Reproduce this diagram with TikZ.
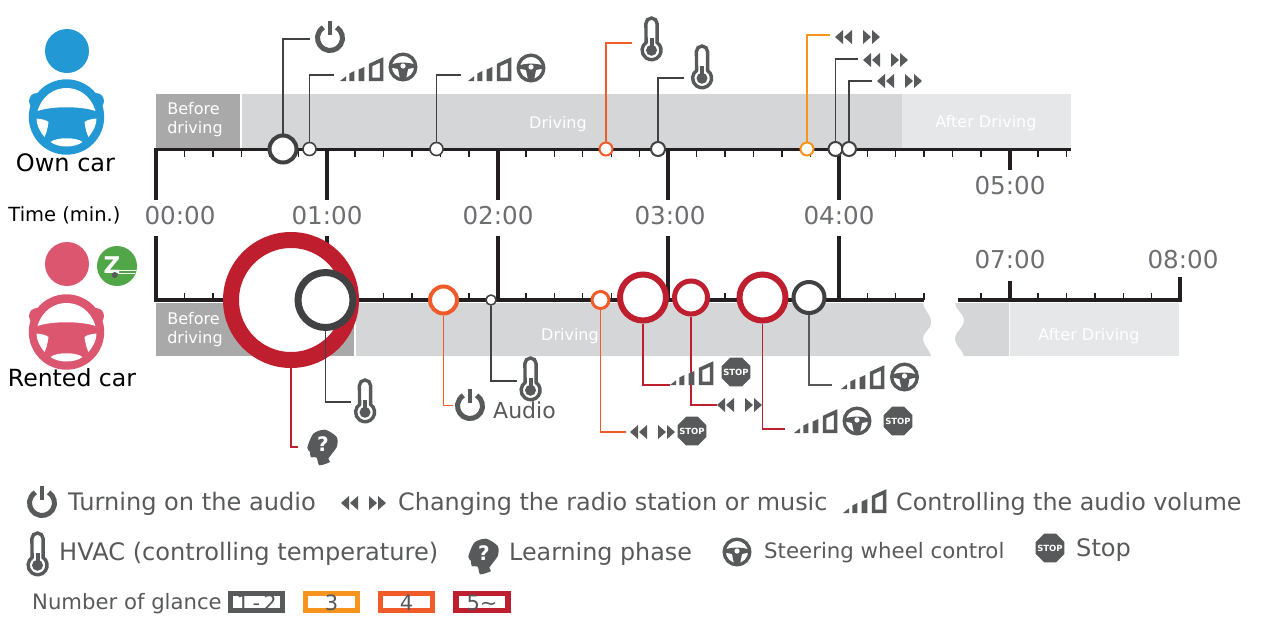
\documentclass[tikz,border=0pt]{standalone}
\usepackage{fontspec}
\setmainfont{DejaVu Sans}
\definecolor{icongray}{HTML}{58595B}
\definecolor{timegray}{HTML}{6D6E71}
\definecolor{axisblack}{HTML}{231F20}
\definecolor{marksdark}{HTML}{414042}
\definecolor{glanceorange}{HTML}{F7941D}
\definecolor{glancetomato}{HTML}{F15A29}
\definecolor{glancered}{HTML}{BE1E2D}
\definecolor{ownblue}{HTML}{2298D5}
\definecolor{rentpink}{HTML}{DC566F}
\definecolor{zipgreen}{HTML}{51A747}
\definecolor{bandbefore}{HTML}{A9A9A9}
\definecolor{banddriving}{HTML}{D5D6D8}
\definecolor{bandafter}{HTML}{E6E7E8}
\newcommand{\fsize}[1]{\fontsize{#1}{#1}\selectfont}
\tikzset{
  axisline/.style={axisblack,line width=3.5pt},
  majortick/.style={axisblack,line width=4pt},
  minortick/.style={axisblack,line width=1.4pt},
  timelabel/.style={text=timegray,inner sep=0pt,font=\fsize{24.6}},
  bandlabel/.style={text=white,inner sep=0pt,align=left,font=\fsize{16}},
  sidelabel/.style={text=black,inner sep=0pt},
  legendtext/.style={text=icongray,inner sep=0pt,anchor=west,font=\fsize{24.1}},
  glancemark/.style={circle,fill=white,inner sep=0pt},
  glancebox/.style={inner sep=0pt,line width=5.5pt,minimum width=52pt,text=icongray,
    text height=17pt,text depth=0pt,font=\fsize{21}},
  pics/powericon/.style={code={
    \draw[icongray,line width=5pt] (-58:12.5) arc (-58:238:12.5);
    \draw[icongray,line width=4.6pt] (0,-17) -- (0,-3);
  }},
  pics/thermoicon/.style={code={
    \draw[icongray,line width=3.4pt] (-5.6,5.6) arc (180:360:5.6) -- (5.6,24.5)
      arc (-54.6:234.6:9.5) -- cycle;
    \fill[icongray] (0,32.3) circle (5.5);
    \fill[icongray] (-2,20) rectangle (2,32);
  }},
  pics/volicon/.style={code={
    \fill[icongray] (0,0) -- (6,0) -- (6,-4.7) -- cycle;
    \fill[icongray] (9.3,0) -- (14.3,0) -- (14.3,-10) -- (9.3,-7.5) -- cycle;
    \fill[icongray] (18.7,0) -- (24.3,0) -- (24.3,-14) -- (18.7,-11.5) -- cycle;
    \draw[icongray,line width=3.5pt,line join=miter] (30.5,-1.75) -- (41.5,-1.75) -- (41.5,-21) -- (30.5,-16) -- cycle;
  }},
  pics/wheelicon/.style={code={
    \draw[icongray,line width=3.4pt] (0,0) circle (12.8);
    \fill[icongray] (-12,-2.5) .. controls (-5,-5) and (5,-5) .. (12,-2.5) -- (12,0.5)
      -- (5,2) -- (3,12) -- (-3,12) -- (-5,2) -- (-12,0.5) -- cycle;
    \fill[white] (0,-1) circle (2.6);
  }},
  pics/seekicon/.style={code={
    \foreach \x in {0,9} \fill[icongray] (\x,0) -- (\x+8,-7) -- (\x+8,7) -- cycle;
    \foreach \x in {28,37} \fill[icongray] (\x+8,0) -- (\x,-7) -- (\x,7) -- cycle;
  }},
  pics/stopicon/.style={code={
    \fill[icongray] (22.5:15.5) \foreach \a in {67.5,112.5,...,337.5} { -- (\a:15.5) } -- cycle;
    \node[text=white,inner sep=0pt,font=\fsize{8.5}\bfseries] (-word) at (0,0) {STOP};
  }},
  pics/headicon/.style={code={
    \fill[icongray] plot[smooth cycle,tension=.45] coordinates {(-14.7,0.7) (-8.7,-13.3) (3,-17.3)
      (14.7,-10) (14.7,0) (6.3,11.7) (8,15) (-2.7,18.3) (-5.3,10.7) (-11.3,10) (-12,5)};
    \node[text=white,inner sep=0pt,font=\fsize{20}\bfseries] (-mark) at (1,-3) {?};
  }},
  pics/drivericon/.style={code={
    \fill[#1] (0,0) circle (37.7);
    \fill[#1] (-29.5,-16) circle (8);
    \fill[#1] (29.5,-16) circle (8);
    \fill[white] (-29,-6) .. controls (-24,-22) and (-12,-29) .. (0,-29)
      .. controls (12,-29) and (24,-22) .. (29,-6) .. controls (15,-11) and (-15,-11) .. (-29,-6) -- cycle;
    \fill[white] (-30,1.5) .. controls (-25,2) and (-20,3) .. (-18,5) .. controls (-19,12) and (-20,16) .. (-22,20)
      .. controls (-27,14) and (-30,8) .. (-30,1.5) -- cycle;
    \fill[white] (30,1.5) .. controls (25,2) and (20,3) .. (18,5) .. controls (19,12) and (20,16) .. (22,20)
      .. controls (27,14) and (30,8) .. (30,1.5) -- cycle;
    \fill[white] (-16,25) .. controls (-10,20) and (10,20) .. (16,25) .. controls (8,31) and (-8,31) .. (-16,25) -- cycle;
  }},
}
\begin{document}
\begin{tikzpicture}[x=1pt,y=-1pt]
   \useasboundingbox (0,0) rectangle (1267,630);
   \fill[bandbefore] (156,94) rectangle (240,148);
   \fill[banddriving] (242,94) rectangle (902,148);
   \fill[bandafter] (902,94) rectangle (1071,148);
   \fill[bandbefore] (156,303) rectangle (354,356);
   \fill[banddriving] (356,303) -- (923,303) .. controls (923,309) and (931,314) .. (931,322)
     .. controls (931,330) and (923,332) .. (923,338) .. controls (923,346) and (930,350) .. (931,356) -- (356,356) -- cycle;
   \fill[banddriving] (955,303) -- (1009,303) -- (1009,356) -- (964,356)
     .. controls (963,350) and (955,346) .. (955,338) .. controls (955,332) and (964,328) .. (964,320)
     .. controls (964,314) and (955,309) .. (955,303) -- cycle;
   \fill[bandafter] (1010,303) rectangle (1179,356);
   \node[bandlabel] (beforeown) at (195,120) {Before\\[3pt]driving};
   \node[bandlabel] (drivingown) at (558,124) {Driving};
   \node[bandlabel] (afterown) at (986,123) {After Driving};
   \node[bandlabel] (beforerent) at (195,330) {Before\\[3pt]driving};
   \node[bandlabel] (drivingrent) at (570,336) {Driving};
   \node[bandlabel] (afterrent) at (1089,336) {After Driving};
   \foreach \i in {1,...,32} \draw[minortick] ({156+28.45*\i},149.5) -- ({156+28.45*\i},157);
   \foreach \i in {1,...,27} \draw[minortick] ({156+28.45*\i},300) -- ({156+28.45*\i},293);
   \foreach \i in {29,...,35} \draw[minortick] ({156+28.45*\i},300) -- ({156+28.45*\i},293);
   \foreach \x in {156,327,498,668,839} {
    \draw[majortick] (\x,149.5) -- (\x,200);
    \draw[majortick] (\x,300) -- (\x,236);
   }
   \draw[majortick] (1010,149.5) -- (1010,170);
   \draw[majortick] (1010,300) -- (1010,281);
   \draw[majortick] (1180,300) -- (1180,277);
   \draw[axisline] (154,149.5) -- (1071,149.5);
   \draw[axisline] (154,300) -- (924,300);
   \draw[axisline] (958,300) -- (1182,300);
   \foreach \n/\x/\y/\t in {t0/180/216/00:00,t1/327/216/01:00,t2/498/216/02:00,t3/670/216/03:00,
     t4/839/216/04:00,t5/1010/186/05:00,t7/1010/260/07:00,t8/1183/260/08:00}
    \node[timelabel] (\n) at (\x,\y) {\t};
   \pic (ownwheel) at (66.5,117) {drivericon=ownblue};
   \fill[ownblue] (67,51) circle (22);
   \pic (rentwheel) at (66.5,332) {drivericon=rentpink};
   \fill[rentpink] (67,264) circle (22);
   \fill[zipgreen] (117,266) circle (20);
   \node[text=white,inner sep=0pt,font=\fsize{23}\bfseries] (zipletter) at (112,265) {Z};
   \draw[white,line width=.7pt] (118,270) -- (136,270);
   \draw[white,line width=.7pt] (118,273) -- (135,273);
   \fill[icongray] (114.7,275) circle (3);
   \node[sidelabel,font=\fsize{24}] (owncar) at (65.5,162.5) {Own car};
   \node[sidelabel,font=\fsize{19.5}] (timemin) at (64.5,215) {Time (min.)};
   \node[sidelabel,font=\fsize{23.6}] (rentcar) at (72,377.5) {Rented car};
   \foreach \n/\x/\y/\d/\w/\s in {a/283/149/27/4/marksdark,b/309.5/149/13/1.6/marksdark,c/436.5/149/13/1.6/marksdark,
     d/606/149/13/2/glancetomato,e/658/149/14/2/marksdark,f/807/149/13/2/glanceorange,
     g/835.5/149/14/2/marksdark,h/849/149/14/2/marksdark,
     i/291/300/120/16/glancered,j/325.5/300/55/7/marksdark,k/443.5/300/27/4/glancetomato,
     l/491/300/10/1.5/marksdark,m/600.5/300/17/3/glancetomato,n/643/297.5/46/6/glancered,
     o/691/297.5/33/5/glancered,p/762.5/297.5/46/6/glancered,q/809/297.5/31/4/marksdark}
    \node[glancemark,draw=\s,line width=\w pt,minimum size=\d pt] (\n) at (\x,\y) {};
   \foreach \n/\x/\y/\s in {a/310/39/marksdark,b/334/75/marksdark,c/461/75/marksdark,d/632/43/glancetomato,
     e/684/78/marksdark,f/830/35/glanceorange,g/858/59/marksdark,h/872/81/marksdark}
    \draw[\s,line width=1.1pt] (\n.north) |- (\x,\y) coordinate (\n end);
   \foreach \n/\x/\y/\s in {i/298/447/glancered,j/351/402/marksdark,k/453/405.5/glancetomato,l/517/381/marksdark,
     m/626/432/glancetomato,n/670/385/glancered,o/717/405/glancered,p/785/429/glancered,q/832/385/icongray}
    \draw[\s,line width=1.1pt] (\n.south) |- (\x,\y) coordinate (\n end);
   \pic (powerone) at (330,38) {powericon};
   \pic (volone) at (340,81) {volicon};
   \pic (wheelone) at (403,67) {wheelicon};
   \pic (voltwo) at (468,81) {volicon};
   \pic (wheeltwo) at (531,68) {wheelicon};
   \pic (thermoone) at (651.5,18) {thermoicon};
   \pic (thermotwo) at (702,46) {thermoicon};
   \pic (seekone) at (835,37) {seekicon};
   \pic (seektwo) at (863,60) {seekicon};
   \pic (seekthree) at (877,81) {seekicon};
   \pic (thermothree) at (365,380) {thermoicon};
   \pic (headone) at (322,447) {headicon};
   \pic (powertwo) at (470,406) {powericon};
   \node[legendtext,font=\fsize{22}] (audio) at (493,410) {Audio};
   \pic (thermofour) at (530.5,358) {thermoicon};
   \pic (seekfour) at (630,432) {seekicon};
   \pic (stopone) at (692,431) {stopicon};
   \pic (volthree) at (670,385) {volicon};
   \pic (stoptwo) at (736,372) {stopicon};
   \pic (seekfive) at (717,405) {seekicon};
   \pic (volfour) at (794,433) {volicon};
   \pic (wheelthree) at (857,421) {wheelicon};
   \pic (stopthree) at (898,421) {stopicon};
   \pic (volfive) at (841,389) {volicon};
   \pic (wheelfour) at (904.5,377) {wheelicon};
   \pic (powerkey) at (42,503) {powericon};
   \node[legendtext] (turnkey) at (68,504) {Turning on the audio};
   \pic (seekkey) at (341,503) {seekicon};
   \node[legendtext,font=\fsize{23.9}] (seektext) at (398,504) {Changing the radio station or music};
   \pic (volkey) at (843,513) {volicon};
   \node[legendtext,font=\fsize{23.8}] (voltext) at (896,504) {Controlling the audio volume};
   \pic (thermokey) at (37.5,533) {thermoicon};
   \node[legendtext] (hvactext) at (59,554) {HVAC (controlling temperature)};
   \pic (headkey) at (483,556) {headicon};
   \node[legendtext,font=\fsize{23.8}] (learntext) at (509,554) {Learning phase};
   \pic (wheelkey) at (737,552) {wheelicon};
   \node[legendtext,font=\fsize{21.3}] (wheeltext) at (764,553) {Steering wheel control};
   \pic (stopkey) at (1050,548) {stopicon};
   \node[legendtext] (stoptext) at (1076,550) {Stop};
   \node[legendtext,font=\fsize{21.2}] (glancetext) at (32,604) {Number of glance};
   \node[glancebox,draw=icongray] (boxone) at (256.5,602) {1\hspace{3pt}-\hspace{3pt}2};
   \node[glancebox,draw=glanceorange] (boxtwo) at (331.5,602) {3};
   \node[glancebox,draw=glancetomato] (boxthree) at (406.5,602) {4};
   \node[glancebox,draw=glancered] (boxfour) at (482,602) {5\textasciitilde};
  \end{tikzpicture}
\end{document}
